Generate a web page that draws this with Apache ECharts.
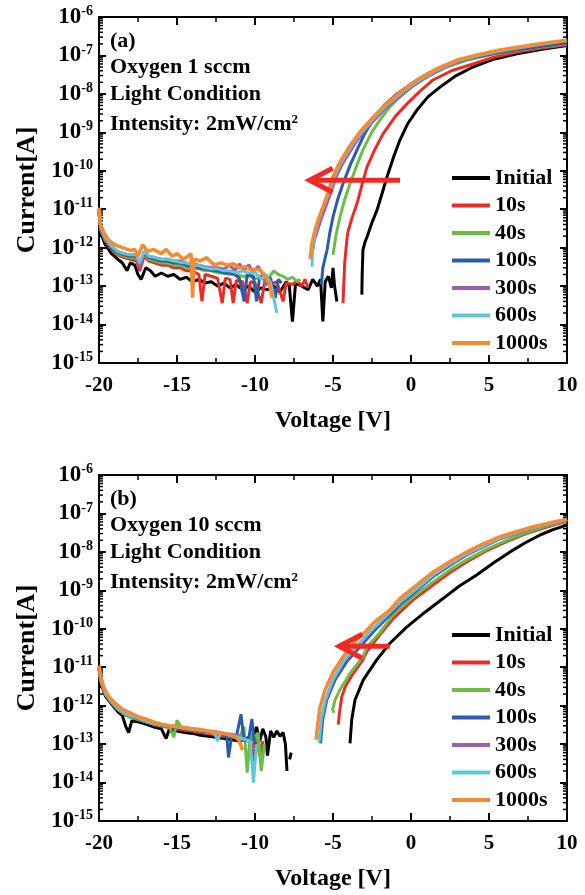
<!DOCTYPE html>
<html><head><meta charset="utf-8">
<script src="https://cdn.jsdelivr.net/npm/echarts@6/dist/echarts.min.js"></script>
<style>html,body{margin:0;padding:0;background:#fff}#c{width:585px;height:895px}</style>
</head><body><div id="c"></div>
<script>
const FONT = 'Liberation Serif';
const seriesNames = ['Initial', '10s', '40s', '100s', '300s', '600s', '1000s'];
const xMin = -20, xMax = 10, xStep = 5;
const yMin = 1e-15, yMax = 1e-6;
const panelLabels = ['(a)', '(b)'];
const panelOxygen = ['Oxygen 1 sccm', 'Oxygen 10 sccm'];
const panelCondition = 'Light Condition';
const panelIntensity = 'Intensity: 2mW/cm{s|2}';
const xAxisName = 'Voltage [V]';
const yAxisName = 'Current[A]';

// ---------- Panel (a): Oxygen 1 sccm ----------
const aInitial = [[-20,8e-12],[-19.9,2.5e-12],[-19.6,1.2e-12],[-19.2,7e-13],[-18.8,5e-13],[-18.5,4e-13],[-18.2,2.5e-13],[-18.0,4e-13],[-17.7,3.5e-13],[-17.5,2e-13],[-17.3,1.5e-13],[-17.0,3e-13],[-16.7,2.5e-13],[-16.4,1.8e-13],[-16.0,2.2e-13],[-15.6,1.8e-13],[-15.2,2e-13],[-14.8,1.5e-13],[-14.4,1.7e-13],[-14.0,1.3e-13],[-13.6,1.5e-13],[-13.2,1.2e-13],[-12.8,1.3e-13],[-12.4,1e-13],[-12.0,1.2e-13],[-11.6,9e-14],[-11.2,1.1e-13],[-10.8,8e-14],[-10.4,1e-13],[-10.0,7e-14],[-9.6,9e-14],[-9.2,8e-14],[-8.8,1e-13],[-8.4,7e-14],[-8.0,1.3e-13],[-7.8,1e-13],[-7.6,1.2e-14],[-7.4,1.2e-13],[-7.0,1e-13],[-6.6,8e-14],[-6.3,1.5e-13],[-6.0,1e-13],[-5.8,1.5e-13],[-5.65,1.2e-14],[-5.5,1.3e-13],[-5.3,1.8e-13],[-5.1,9e-14],[-5.0,3e-13],[-4.9,1e-13],[-4.75,4e-14],
 [-4.0,'-'],
 [-3.15,6e-14],[-3.13,2e-13],[-3.08,8.7e-13],[-2.95,1.4e-12],[-2.82,1.9e-12],[-2.5,4.5e-12],[-2.18,9.5e-12],[-1.85,2.6e-11],[-1.54,6.9e-11],[-1.1,2.4e-10],[-0.71,6.3e-10],[-0.2,1.7e-9],[0.38,3.8e-9],[1.1,8.5e-9],[1.86,1.5e-8],[2.9,3e-8],[3.97,5e-8],[5.3,8e-8],[6.8,1.1e-7],[8.4,1.45e-7],[10,1.8e-7]];
const a10s = [[-20,9e-12],[-19.9,3e-12],[-19.6,1.5e-12],[-19.2,9e-13],[-18.8,6.5e-13],[-18.4,5.5e-13],[-18.0,5e-13],[-17.6,4.5e-13],[-17.4,2.5e-13],[-17.1,6e-13],[-16.8,4.5e-13],[-16.4,4e-13],[-16.0,3.5e-13],[-15.6,3.5e-13],[-15.2,3e-13],[-14.8,3e-13],[-14.4,2.5e-13],[-14.0,2.5e-13],[-13.6,2e-13],[-13.4,4e-14],[-13.2,2e-13],[-12.8,1.8e-13],[-12.4,1.6e-13],[-12.1,3.6e-14],[-11.9,1.6e-13],[-11.6,1.5e-13],[-11.4,3.6e-14],[-11.2,1.4e-13],[-10.8,1.3e-13],[-10.5,3.6e-14],[-10.3,1.3e-13],[-10.0,1.2e-13],[-9.6,3.6e-14],[-9.4,1.2e-13],[-9.0,1.1e-13],[-8.6,1.3e-13],[-8.2,4e-14],[-8.0,1.2e-13],[-7.6,1.1e-13],[-7.3,1.4e-13],[-7.0,1e-13],[-6.8,1.5e-13],[-6.6,9e-14],
 [-5.5,'-'],
 [-4.36,3.6e-14],[-4.25,4e-13],[-4.1,1.8e-12],[-4.04,2.6e-12],[-3.75,6.5e-12],[-3.46,1.4e-11],[-3.15,4.2e-11],[-2.82,1.26e-10],[-2.3,3.7e-10],[-1.79,9.1e-10],[-1.0,2.6e-9],[-0.26,5.5e-9],[0.6,1.2e-8],[1.41,2.3e-8],[2.6,4e-8],[3.97,6e-8],[5.3,9e-8],[6.8,1.23e-7],[8.4,1.55e-7],[10,1.9e-7]];
const a40s = [[-20,9e-12],[-19.9,3e-12],[-19.6,1.6e-12],[-19.2,1e-12],[-18.8,7e-13],[-18.4,6e-13],[-18.0,5.5e-13],[-17.6,5.5e-13],[-17.4,3.5e-13],[-17.1,7e-13],[-16.8,5e-13],[-16.4,4.5e-13],[-16.0,4e-13],[-15.6,4e-13],[-15.2,3.5e-13],[-14.8,3.5e-13],[-14.4,3e-13],[-14.0,3e-13],[-13.6,2.8e-13],[-13.2,2.5e-13],[-12.8,2.5e-13],[-12.4,2.2e-13],[-12.0,2.2e-13],[-11.6,2e-13],[-11.2,2e-13],[-10.8,1.8e-13],[-10.4,1.8e-13],[-10.0,1.6e-13],[-9.6,1.6e-13],[-9.2,1.5e-13],[-8.8,2.5e-13],[-8.5,2e-13],[-8.2,1.8e-13],[-7.9,1.5e-13],[-7.6,1.7e-13],[-7.3,1.3e-13],[-7.1,1.5e-13],
 [-6.0,'-'],
 [-5.0,6.5e-13],[-4.8,2.2e-12],[-4.55,6.3e-12],[-4.25,1.8e-11],[-3.91,4.6e-11],[-3.5,1.3e-10],[-3.08,3.5e-10],[-2.55,9.5e-10],[-1.99,2.1e-9],[-1.4,4.4e-9],[-0.71,8.3e-9],[0.1,1.6e-8],[1.03,2.75e-8],[2.2,4.8e-8],[3.59,7.6e-8],[5.2,1.05e-7],[7.0,1.4e-7],[8.5,1.7e-7],[10,2e-7]];
const a100s = [[-20,9.5e-12],[-19.9,3.2e-12],[-19.6,1.7e-12],[-19.2,1e-12],[-18.8,7.5e-13],[-18.4,6.5e-13],[-18.0,6e-13],[-17.6,6e-13],[-17.4,3.5e-13],[-17.1,7.5e-13],[-16.8,5.5e-13],[-16.4,5e-13],[-16.0,4.5e-13],[-15.6,4.5e-13],[-15.2,4e-13],[-14.8,4e-13],[-14.4,3.5e-13],[-14.0,3.2e-13],[-13.6,3e-13],[-13.2,2.8e-13],[-12.8,2.6e-13],[-12.4,2.5e-13],[-12.0,2.2e-13],[-11.6,2.2e-13],[-11.3,2e-13],[-11.0,1.6e-13],[-10.7,4e-14],[-10.5,2e-13],[-10.1,1.8e-13],[-9.9,4e-14],[-9.7,1.8e-13],[-9.3,1.6e-13],[-9.0,1.6e-13],[-8.7,5e-14],[-8.5,1.5e-13],[-8.3,1.2e-13],
 [-7.0,'-'],
 [-5.75,1.1e-13],[-5.65,3e-13],[-5.5,5.5e-13],[-5.38,8.7e-13],[-5.2,2.5e-12],[-5.0,6.3e-12],[-4.7,1.8e-11],[-4.36,4.6e-11],[-3.9,1.4e-10],[-3.46,3.5e-10],[-2.95,9.5e-10],[-2.44,2.1e-9],[-1.7,5.2e-9],[-0.9,1e-8],[0,1.8e-8],[1.03,3.3e-8],[2.2,5.5e-8],[3.59,8.1e-8],[5.2,1.1e-7],[7.0,1.45e-7],[8.5,1.75e-7],[10,2.1e-7]];
const a300s = [[-20,1e-11],[-19.9,3.5e-12],[-19.6,1.8e-12],[-19.2,1.1e-12],[-18.8,8e-13],[-18.4,7e-13],[-18.0,6.5e-13],[-17.6,6.5e-13],[-17.4,3e-13],[-17.1,8e-13],[-16.8,6e-13],[-16.4,5.5e-13],[-16.0,5e-13],[-15.6,5e-13],[-15.2,4.5e-13],[-14.8,4.5e-13],[-14.4,4e-13],[-14.0,3.8e-13],[-13.6,3.5e-13],[-13.2,3.2e-13],[-12.8,3e-13],[-12.4,3e-13],[-12.0,2.8e-13],[-11.6,3.5e-13],[-11.3,2.5e-13],[-11.0,3.8e-13],[-10.7,2.5e-13],[-10.4,3.6e-13],[-10.1,2.3e-13],[-9.8,3.3e-13],[-9.5,2e-13],[-9.3,1e-13],
 [-7.5,'-'],
 [-6.28,9e-13],[-6.2,1.5e-12],[-5.95,3.2e-12],[-5.7,6.5e-12],[-5.45,1.2e-11],[-5.1,3e-11],[-4.8,6.8e-11],[-4.5,1.25e-10],[-4.15,2.2e-10],[-3.6,5e-10],[-3.07,1e-9],[-2.3,2.2e-9],[-1.6,4.4e-9],[-0.5,1.05e-8],[0.6,2.2e-8],[1.8,4.2e-8],[3.15,7.3e-8],[4.5,1e-7],[5.9,1.33e-7],[8.0,1.83e-7],[10,2.4e-7]];
const a600s = [[-20,1e-11],[-19.9,3.5e-12],[-19.6,1.8e-12],[-19.2,1.1e-12],[-18.8,8e-13],[-18.4,7e-13],[-18.0,6.5e-13],[-17.6,6.5e-13],[-17.4,4e-13],[-17.1,8e-13],[-16.8,6e-13],[-16.4,5.5e-13],[-16.0,5e-13],[-15.6,5e-13],[-15.2,4.5e-13],[-14.8,4.2e-13],[-14.4,4e-13],[-14.0,3.6e-13],[-13.6,3.4e-13],[-13.2,3e-13],[-12.8,2.8e-13],[-12.4,2.8e-13],[-12.0,2.5e-13],[-11.6,2.5e-13],[-11.2,2.2e-13],[-10.8,2.5e-13],[-10.4,2.2e-13],[-10.0,2.3e-13],[-9.6,1.5e-13],[-9.3,2e-13],[-9.0,1.2e-13],[-8.8,5e-14],[-8.6,2e-14],
 [-7.5,'-'],
 [-6.35,3.2e-13],[-6.3,1e-12],[-6.05,3.5e-12],[-5.8,7e-12],[-5.55,1.3e-11],[-5.2,3.2e-11],[-4.9,7e-11],[-4.6,1.3e-10],[-4.25,2.3e-10],[-3.7,5.2e-10],[-3.17,1e-9],[-2.4,2.3e-9],[-1.7,4.5e-9],[-0.6,1.08e-8],[0.5,2.25e-8],[1.7,4.3e-8],[3.05,7.4e-8],[4.4,1.03e-7],[5.8,1.35e-7],[7.9,1.85e-7],[10,2.45e-7]];
const a1000s = [[-20,1.1e-11],[-19.9,4e-12],[-19.7,2.5e-12],[-19.4,1.6e-12],[-19.0,1.2e-12],[-18.5,1e-12],[-18.0,8.5e-13],[-17.7,9e-13],[-17.5,6e-13],[-17.2,1.2e-12],[-16.9,8e-13],[-16.5,9e-13],[-16.0,7e-13],[-15.7,9e-13],[-15.3,6e-13],[-15.0,7e-13],[-14.6,5e-13],[-14.3,6e-13],[-14.1,7e-13],[-14.0,5e-14],[-13.9,5e-13],[-13.5,4.5e-13],[-13.1,5.5e-13],[-12.6,3.5e-13],[-12.2,4e-13],[-11.8,3.5e-13],[-11.4,3.8e-13],[-11.0,3e-13],[-10.6,3.2e-13],[-10.2,2.6e-13],[-9.8,2.8e-13],[-9.4,2e-13],[-9.1,1.2e-13],[-8.9,5e-14],
 [-7.5,'-'],
 [-6.47,5e-13],[-6.35,1.3e-12],[-6.15,2.9e-12],[-5.9,6e-12],[-5.64,1.15e-11],[-5.3,2.9e-11],[-5.0,6.9e-11],[-4.7,1.3e-10],[-4.36,2.3e-10],[-3.8,5.2e-10],[-3.27,1.02e-9],[-2.5,2.3e-9],[-1.79,4.6e-9],[-0.7,1.1e-8],[0.38,2.3e-8],[1.6,4.4e-8],[2.95,7.6e-8],[4.3,1.05e-7],[5.7,1.38e-7],[7.8,1.9e-7],[10,2.5e-7]];

// ---------- Panel (b): Oxygen 10 sccm ----------
const bInitial = [[-20,9e-12],[-19.9,4e-12],[-19.6,1.8e-12],[-19.2,1.1e-12],[-18.8,7e-13],[-18.5,5.5e-13],[-18.3,3e-13],[-18.1,2e-13],[-17.9,4e-13],[-17.5,3.8e-13],[-17.0,3.3e-13],[-16.5,2.8e-13],[-16.0,2.5e-13],[-15.7,1.4e-13],[-15.5,2.4e-13],[-15.0,2.2e-13],[-14.5,2e-13],[-14.0,1.9e-13],[-13.5,1.7e-13],[-13.0,1.6e-13],[-12.5,1.5e-13],[-12.0,1.4e-13],[-11.5,1.3e-13],[-11.0,1.2e-13],[-10.7,1.3e-13],[-10.4,1.5e-13],[-10.2,1.3e-13],[-9.9,2.8e-13],[-9.7,1.2e-13],[-9.5,2.5e-13],[-9.3,1.5e-13],[-9.2,5e-14],[-9.0,2.2e-13],[-8.8,1.5e-13],[-8.6,2.2e-13],[-8.4,1.6e-13],[-8.2,2e-13],[-8.05,1e-13],[-7.95,2e-14],
 [-7.85,'-'],
 [-7.78,4e-14],[-7.68,6e-14],
 [-6.0,'-'],
 [-3.91,1.05e-13],[-3.8,4.3e-13],[-3.59,1.4e-12],[-3.06,4.7e-12],[-2.2,1.55e-11],[-1.35,4.2e-11],[-0.28,1.1e-10],[0.9,2.7e-10],[2.07,6.2e-10],[3.1,1.3e-9],[4.21,2.5e-9],[5.3,5.2e-9],[6.35,1e-8],[7.3,1.7e-8],[8.27,2.75e-8],[9.1,3.8e-8],[10,5e-8]];
const b10s = [[-20,1e-11],[-19.9,4.5e-12],[-19.6,2e-12],[-19.2,1.2e-12],[-18.8,8e-13],[-18.4,6e-13],[-18.0,5e-13],[-17.5,4.3e-13],[-17.0,3.8e-13],[-16.5,3.2e-13],[-16.0,2.9e-13],[-15.5,2.7e-13],[-15.0,2.5e-13],[-14.5,2.3e-13],[-14.0,2.2e-13],[-13.5,2e-13],[-13.0,1.9e-13],[-12.5,1.7e-13],[-12.0,1.6e-13],[-11.5,1.5e-13],[-11.0,1.4e-13],[-10.6,1.2e-13],[-10.3,1.5e-13],[-10.1,3.5e-14],[-9.9,1.4e-13],[-9.7,5e-14],[-9.5,1.2e-13],
 [-7.0,'-'],
 [-4.66,3.2e-13],[-4.59,6.3e-13],[-4.44,1.7e-12],[-4.2,3.2e-12],[-3.8,6e-12],[-3.1,1.5e-11],[-2.84,2.5e-11],[-2.0,7e-11],[-1.13,1.85e-10],[0.1,5.5e-10],[1.43,1.4e-9],[2.5,2.9e-9],[3.57,5.5e-9],[4.9,1.1e-8],[6.13,1.85e-8],[7.3,2.9e-8],[8.6,4.3e-8],[10,6.3e-8]];
const b40s = [[-20,1e-11],[-19.9,4.5e-12],[-19.6,2e-12],[-19.2,1.2e-12],[-18.8,8e-13],[-18.4,6.2e-13],[-18.0,5.2e-13],[-17.5,4.5e-13],[-17.0,3.8e-13],[-16.5,3.3e-13],[-16.0,3e-13],[-15.5,2.8e-13],[-15.2,1.5e-13],[-15.0,4.2e-13],[-14.7,2.6e-13],[-14.0,2.4e-13],[-13.5,2.2e-13],[-13.0,2e-13],[-12.5,1.9e-13],[-12.0,1.8e-13],[-11.5,1.6e-13],[-11.0,1.5e-13],[-10.7,2.8e-13],[-10.5,1.8e-14],[-10.3,2e-13],[-10.0,1.2e-13],[-9.8,2e-13],[-9.6,2e-14],[-9.4,1e-13],
 [-7.0,'-'],
 [-4.95,6.5e-13],[-5.02,8e-13],[-4.87,1.4e-12],[-4.55,2.6e-12],[-3.91,6.9e-12],[-3.06,1.9e-11],[-2.84,3.3e-11],[-1.99,8e-11],[-1.15,2.3e-10],[0.1,6.5e-10],[1.43,1.66e-9],[2.5,3.4e-9],[3.57,6.2e-9],[4.9,1.2e-8],[6.13,2e-8],[7.3,3.1e-8],[8.6,4.6e-8],[10,6.6e-8]];
const b100s = [[-20,1e-11],[-19.9,5e-12],[-19.6,2.2e-12],[-19.2,1.3e-12],[-18.8,8.5e-13],[-18.4,6.5e-13],[-18.0,5.5e-13],[-17.5,4.7e-13],[-17.0,4e-13],[-16.5,3.5e-13],[-16.0,3.1e-13],[-15.5,2.9e-13],[-15.0,2.7e-13],[-14.5,2.5e-13],[-14.0,2.4e-13],[-13.5,2.2e-13],[-13.0,2.1e-13],[-12.5,2e-13],[-12.0,1.8e-13],[-11.8,1.5e-13],[-11.7,4.5e-14],[-11.5,1.6e-13],[-11.2,1.5e-13],[-10.9,6e-13],[-10.7,1.2e-13],[-10.4,1.4e-13],[-10.2,4.5e-13],[-10.0,8e-14],
 [-8.0,'-'],
 [-5.8,1.05e-13],[-5.66,4.3e-13],[-5.4,1.4e-12],[-4.87,4.7e-12],[-4.12,1.4e-11],[-3.16,3.8e-11],[-2.4,8.5e-11],[-1.5,2e-10],[-0.6,4.6e-10],[0.5,1.1e-9],[1.5,2.4e-9],[2.6,4.8e-9],[3.6,8.5e-9],[4.7,1.4e-8],[5.7,2.2e-8],[6.8,3.1e-8],[7.8,4.1e-8],[8.9,5.4e-8],[10,6.9e-8]];
const b300s = [[-20,1.05e-11],[-19.9,5e-12],[-19.6,2.2e-12],[-19.2,1.3e-12],[-18.8,8.5e-13],[-18.4,6.5e-13],[-18.0,5.5e-13],[-17.5,4.8e-13],[-17.0,4.1e-13],[-16.5,3.6e-13],[-16.0,3.2e-13],[-15.5,3e-13],[-15.0,2.8e-13],[-14.5,2.6e-13],[-14.0,2.5e-13],[-13.5,2.3e-13],[-13.0,2.2e-13],[-12.5,2.1e-13],[-12.0,1.9e-13],[-11.5,1.8e-13],[-11.0,1.6e-13],[-10.7,1.2e-13],
 [-8.0,'-'],
 [-5.85,1.2e-13],[-5.72,4.5e-13],[-5.45,1.4e-12],[-4.95,4.8e-12],[-4.25,1.45e-11],[-3.3,3.9e-11],[-2.55,8.6e-11],[-1.6,2.05e-10],[-0.7,4.7e-10],[0.45,1.12e-9],[1.45,2.45e-9],[2.55,4.9e-9],[3.6,8.6e-9],[4.7,1.42e-8],[5.7,2.25e-8],[6.8,3.15e-8],[7.8,4.15e-8],[8.9,5.45e-8],[10,6.9e-8]];
const b600s = [[-20,1.05e-11],[-19.9,5e-12],[-19.6,2.2e-12],[-19.2,1.3e-12],[-18.8,8.5e-13],[-18.4,6.5e-13],[-18.0,5.5e-13],[-17.5,4.8e-13],[-17.0,4e-13],[-16.5,3.5e-13],[-16.0,3.2e-13],[-15.5,3e-13],[-15.0,2.8e-13],[-14.5,2.6e-13],[-14.0,2.4e-13],[-13.5,2.3e-13],[-13.0,2.2e-13],[-12.6,2e-13],[-12.4,1.2e-13],[-12.2,2e-13],[-11.8,1.8e-13],[-11.4,1.6e-13],[-11.0,1.5e-13],[-10.6,1.3e-13],[-10.3,1.2e-13],[-10.1,1e-14],[-9.9,1e-13],
 [-8.0,'-'],
 [-5.9,1.1e-13],[-5.76,4.3e-13],[-5.5,1.4e-12],[-5.0,4.9e-12],[-4.3,1.5e-11],[-3.35,4e-11],[-2.6,8.8e-11],[-1.65,2.1e-10],[-0.75,4.8e-10],[0.4,1.15e-9],[1.4,2.5e-9],[2.5,5e-9],[3.55,8.8e-9],[4.65,1.45e-8],[5.7,2.3e-8],[6.8,3.2e-8],[7.8,4.2e-8],[8.9,5.5e-8],[10,7e-8]];
const b1000s = [[-20,1.1e-11],[-19.9,6e-12],[-19.7,3e-12],[-19.4,1.8e-12],[-19.0,1.2e-12],[-18.5,8e-13],[-18.0,6.5e-13],[-17.5,5.2e-13],[-17.0,4.5e-13],[-16.5,3.8e-13],[-16.0,3.3e-13],[-15.5,3e-13],[-15.0,2.9e-13],[-14.5,2.7e-13],[-14.0,2.5e-13],[-13.5,2.4e-13],[-13.0,2.2e-13],[-12.5,2e-13],[-12.0,1.9e-13],[-11.5,1.7e-13],[-11.2,1.5e-13],[-11.0,1.2e-13],[-10.8,7e-14],
 [-8.0,'-'],
 [-6.09,1.3e-13],[-6.0,2.8e-13],[-5.83,9.3e-13],[-5.51,2.6e-12],[-4.98,7.6e-12],[-4.34,1.9e-11],[-3.48,5.1e-11],[-2.84,9e-11],[-2.42,1.4e-10],[-1.35,3.1e-10],[-0.71,6.2e-10],[0.4,1.4e-9],[1.43,3e-9],[2.5,5.6e-9],[3.57,1e-8],[4.6,1.6e-8],[5.71,2.5e-8],[6.8,3.4e-8],[7.84,4.5e-8],[8.9,5.7e-8],[10,7e-8]];

// arrows (data coordinates: tail, tip)
const arrowA = [[-0.7, 5.7e-11], [-6.5, 5.7e-11]];
const arrowB = [[-1.35, 3.5e-11], [-4.6, 3.5e-11]];

const panelData = [
  [aInitial, a10s, a40s, a100s, a300s, a600s, a1000s],
  [bInitial, b10s, b40s, b100s, b300s, b600s, b1000s]
];
const colors = ['#000000', '#ee2a24', '#6abd45', '#2a5caa', '#9b5fae', '#5fc6d6', '#f58a32'];

const chart = echarts.init(document.getElementById('c'), null, {renderer: 'canvas'});
const gridTops = [17, 475];
const grids = gridTops.map(t => ({left: 99, top: t, width: 468, height: 346}));

const txtBold = (size) => ({fontFamily: FONT, fontWeight: 'bold', fontSize: size, color: '#000'});

const xAxes = [], yAxes = [];
[0, 1].forEach(p => {
  xAxes.push({
    type: 'value', gridIndex: p, position: 'bottom', min: xMin, max: xMax, interval: xStep,
    name: xAxisName, nameLocation: 'middle', nameGap: 46, nameTextStyle: txtBold(24),
    axisLine: {onZero: false, lineStyle: {color: '#000', width: 2}},
    axisTick: {inside: true, length: 8, lineStyle: {width: 2, color: '#000'}},
    minorTick: {show: true, splitNumber: 2, length: 5, lineStyle: {width: 1.5, color: '#000'}},
    axisLabel: Object.assign({margin: 12, formatter: v => String(v)}, txtBold(21)),
    splitLine: {show: false}
  });
  xAxes.push({
    type: 'value', gridIndex: p, position: 'top', min: xMin, max: xMax, interval: xStep,
    axisLine: {onZero: false, lineStyle: {color: '#000', width: 2}},
    axisTick: {inside: true, length: 8, lineStyle: {width: 2, color: '#000'}},
    minorTick: {show: true, splitNumber: 2, length: 5, lineStyle: {width: 1.5, color: '#000'}},
    axisLabel: {show: false}, splitLine: {show: false}
  });
  yAxes.push({
    type: 'log', logBase: 10, gridIndex: p, position: 'left', min: yMin, max: yMax, splitNumber: 9,
    name: yAxisName, nameLocation: 'middle', nameGap: 58, nameRotate: 90, nameTextStyle: txtBold(26),
    axisLine: {onZero: false, lineStyle: {color: '#000', width: 2}},
    axisTick: {inside: true, length: 7, lineStyle: {width: 2, color: '#000'}},
    axisLabel: {
      margin: 6,
      formatter: v => '{b|10}{s|' + Math.round(Math.log10(v)) + '}',
      rich: {
        b: txtBold(23),
        s: Object.assign({padding: [0, 0, 11, 0]}, txtBold(14))
      }
    },
    splitLine: {show: false}
  });
  yAxes.push({
    type: 'log', logBase: 10, gridIndex: p, position: 'right', min: yMin, max: yMax, splitNumber: 9,
    axisLine: {onZero: false, lineStyle: {color: '#000', width: 2}},
    axisTick: {inside: true, length: 7, lineStyle: {width: 2, color: '#000'}},
    axisLabel: {show: false}, splitLine: {show: false}
  });
});

const series = [];
[0, 1].forEach(p => {
  seriesNames.forEach((n, i) => {
    series.push({
      type: 'line', name: n, xAxisIndex: p * 2, yAxisIndex: p * 2,
      data: panelData[p][i], showSymbol: false, symbol: 'none', connectNulls: false,
      lineStyle: {width: i === 6 ? 3.5 : 3, color: colors[i]}, itemStyle: {color: colors[i]},
      animation: false, z: 2 + i
    });
  });
});

const legendBase = (top) => ({
  data: seriesNames, orient: 'vertical', left: 447, top: top,
  itemWidth: 38, itemHeight: 4, itemGap: 5.5, icon: 'rect',
  textStyle: Object.assign({lineHeight: 22}, txtBold(22)),
  selectedMode: false
});

const annTexts = [];
[0, 1].forEach(p => {
  const t = gridTops[p];
  const ys = [t + 25, t + 51, t + 78, t + 108];
  const txts = [panelLabels[p], panelOxygen[p], panelCondition, panelIntensity];
  txts.forEach((s, k) => {
    annTexts.push({
      type: 'text', left: 110, top: ys[k] - 12, silent: true,
      style: {text: s, font: 'bold 22px "' + FONT + '"', fill: '#000',
        rich: {s: Object.assign({padding: [0, 0, 10, 0]}, txtBold(13))}}
    });
  });
});

chart.setOption({
  animation: false,
  backgroundColor: '#fff',
  grid: grids,
  xAxis: xAxes,
  yAxis: yAxes,
  legend: [legendBase(162), legendBase(619)],
  series: series,
  graphic: annTexts
});

// minor log ticks and arrows placed through the axis scales
const extra = [];
[0, 1].forEach(p => {
  const left = chart.convertToPixel({xAxisIndex: p * 2}, xMin);
  const right = chart.convertToPixel({xAxisIndex: p * 2}, xMax);
  for (let e = -15; e < -6; e++) {
    for (let k = 2; k <= 9; k++) {
      const y = chart.convertToPixel({yAxisIndex: p * 2}, k * Math.pow(10, e));
      extra.push({type: 'line', silent: true, shape: {x1: left, y1: y, x2: left + 4, y2: y}, style: {stroke: '#000', lineWidth: 1.5}});
      extra.push({type: 'line', silent: true, shape: {x1: right - 4, y1: y, x2: right, y2: y}, style: {stroke: '#000', lineWidth: 1.5}});
    }
  }
  const arr = p === 0 ? arrowA : arrowB;
  const tail = [chart.convertToPixel({xAxisIndex: p * 2}, arr[0][0]), chart.convertToPixel({yAxisIndex: p * 2}, arr[0][1])];
  const tip = [chart.convertToPixel({xAxisIndex: p * 2}, arr[1][0]), chart.convertToPixel({yAxisIndex: p * 2}, arr[1][1])];
  extra.push({type: 'line', silent: true, z: 50, shape: {x1: tail[0], y1: tail[1], x2: tip[0] + 2, y2: tip[1]}, style: {stroke: '#ee2a24', lineWidth: 5}});
  extra.push({type: 'polyline', silent: true, z: 50, shape: {points: [[tip[0] + 23, tip[1] - 12], [tip[0], tip[1]], [tip[0] + 23, tip[1] + 12]]}, style: {stroke: '#ee2a24', lineWidth: 5, fill: null}});
});
chart.setOption({graphic: annTexts.concat(extra)});
</script>
</body></html>
